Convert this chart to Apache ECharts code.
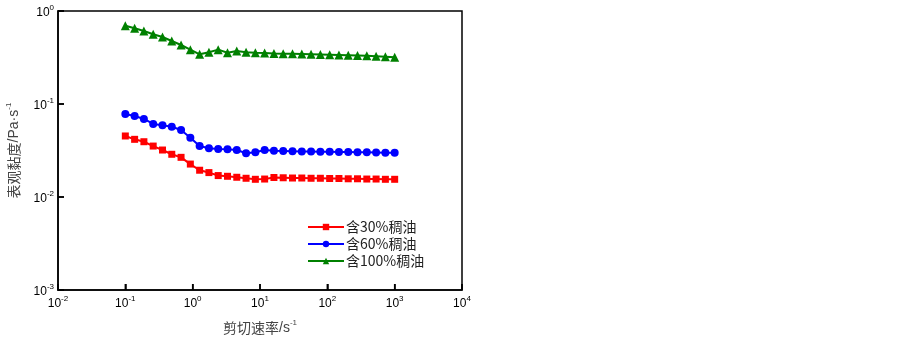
<!DOCTYPE html>
<html>
<head>
<meta charset="utf-8">
<script src="https://cdn.jsdelivr.net/npm/echarts@6/dist/echarts.min.js"></script>
<style>html,body{margin:0;padding:0;background:#fff}#c{width:903px;height:337px}</style>
</head>
<body>
<div id="c"></div>
<script>
var shearRate = [0.1, 0.1374, 0.1887, 0.2593, 0.3562, 0.4894, 0.6723, 0.9237, 1.269, 1.743, 2.395, 3.290, 4.520, 6.210, 8.532, 11.72, 16.10, 22.12, 30.39, 41.75, 57.36, 78.80, 108.3, 148.7, 204.3, 280.7, 385.7, 529.9, 728.0, 1000];
var oil30 = [0.0453, 0.0417, 0.0393, 0.0353, 0.0320, 0.0288, 0.0267, 0.0226, 0.0194, 0.0183, 0.0170, 0.0167, 0.0163, 0.0159, 0.0155, 0.0156, 0.0162, 0.0161, 0.0160, 0.0160, 0.0159, 0.0159, 0.0158, 0.0158, 0.0157, 0.0157, 0.0156, 0.0156, 0.0155, 0.0155];
var oil60 = [0.0781, 0.0743, 0.0690, 0.0610, 0.0590, 0.0570, 0.0525, 0.0434, 0.0353, 0.0334, 0.0328, 0.0326, 0.0320, 0.0295, 0.0303, 0.0320, 0.0315, 0.0313, 0.0311, 0.0309, 0.0308, 0.0307, 0.0306, 0.0305, 0.0304, 0.0303, 0.0302, 0.0301, 0.0300, 0.0299];
var oil100 = [0.695, 0.652, 0.609, 0.562, 0.525, 0.476, 0.431, 0.384, 0.342, 0.360, 0.384, 0.356, 0.371, 0.360, 0.356, 0.353, 0.350, 0.348, 0.346, 0.344, 0.342, 0.340, 0.338, 0.336, 0.334, 0.332, 0.330, 0.327, 0.323, 0.318];
var seriesNames = ['含30%稠油', '含60%稠油', '含100%稠油'];
var xTickValues = [0.01, 0.1, 1, 10, 100, 1000, 10000];
var yTickValues = [0.001, 0.01, 0.1, 1];
var xTitleCjk = '剪切速率', xTitleUnit = '/s';
var yTitleCjk = '表观黏度', yTitleUnit = '/Pa·s';

function pairs(ys){ return ys.map(function(y,i){ return [shearRate[i], y]; }); }
function powLabel(v){
  var e = Math.round(Math.log(v)/Math.LN10);
  return '{b|10}{s|' + e + '}';
}
var richTick = {
  b: {fontFamily: 'Liberation Sans', fontSize: 12, color: '#000', verticalAlign: 'bottom', lineHeight: 15},
  s: {fontFamily: 'Liberation Sans', fontSize: 8, color: '#000', verticalAlign: 'top', lineHeight: 15, padding: [0,0,7,0]}
};
var richName = {
  c: {fontFamily: 'Noto Sans CJK SC', fontSize: 14, color: '#444', lineHeight: 18},
  u: {fontFamily: 'Liberation Sans', fontSize: 14, color: '#444', lineHeight: 18},
  s: {fontFamily: 'Liberation Sans', fontSize: 8, color: '#444', verticalAlign: 'top', lineHeight: 18, padding: [0,0,9,0]}
};

var chart = echarts.init(document.getElementById('c'), null, {renderer: 'canvas'});
chart.setOption({
  animation: false,
  backgroundColor: '#fff',
  textStyle: {fontFamily: 'Liberation Sans'},
  grid: {left: 58, top: 11, width: 404, height: 279, show: true, borderColor: '#000', borderWidth: 1.5,
         containLabel: false, outerBoundsMode: 'none'},
  xAxis: {
    type: 'log', logBase: 10, min: 0.01, max: 10000, position: 'bottom',
    name: '{c|' + xTitleCjk + '}{u|' + xTitleUnit + '}{s|-1}', nameLocation: 'middle', nameGap: 29,
    nameTextStyle: {rich: richName},
    axisLine: {show: true, onZero: false, lineStyle: {color: '#000', width: 1.5}},
    axisTick: {show: true, inside: true, length: 6, lineStyle: {color: '#000', width: 1.5}},
    minorTick: {show: false},
    splitLine: {show: false},
    axisLabel: {formatter: powLabel, rich: richTick, margin: 5}
  },
  yAxis: {
    type: 'log', logBase: 10, min: 0.001, max: 1, position: 'left',
    name: '{c|' + yTitleCjk + '}{u|' + yTitleUnit + '}{s|-1}', nameLocation: 'middle', nameGap: 35, nameRotate: 90,
    nameTextStyle: {rich: richName},
    axisLine: {show: true, onZero: false, lineStyle: {color: '#000', width: 1.5}},
    axisTick: {show: true, inside: true, length: 6, lineStyle: {color: '#000', width: 1.5}},
    minorTick: {show: false},
    splitLine: {show: false},
    axisLabel: {formatter: powLabel, rich: richTick, margin: 4}
  },
  legend: {
    show: true, orient: 'vertical', left: 307, top: 220, padding: 0, itemWidth: 36, itemHeight: 8, itemGap: 3,
    data: seriesNames,
    textStyle: {fontFamily: 'Noto Sans CJK SC', fontSize: 14, color: '#222', padding: [0,0,0,-3]}
  },
  series: [
    {name: seriesNames[0], type: 'line', data: pairs(oil30), symbol: 'rect', symbolSize: 7,
     itemStyle: {color: '#ff0000'}, lineStyle: {color: '#ff0000', width: 2}},
    {name: seriesNames[1], type: 'line', data: pairs(oil60), symbol: 'circle', symbolSize: 8,
     itemStyle: {color: '#0000ff'}, lineStyle: {color: '#0000ff', width: 2}},
    {name: seriesNames[2], type: 'line', data: pairs(oil100), symbol: 'triangle', symbolSize: 9,
     itemStyle: {color: '#008000'}, lineStyle: {color: '#008000', width: 2}}
  ]
});

// inward tick marks, positioned through the library's own log scales
var tickLen = 6;
var bottomY = chart.convertToPixel({yAxisIndex: 0}, yTickValues[0]);
var leftX = chart.convertToPixel({xAxisIndex: 0}, xTickValues[0]);
var ticks = [];
xTickValues.forEach(function(v){
  var px = chart.convertToPixel({xAxisIndex: 0}, v);
  ticks.push({type: 'line', z: 100, silent: true,
    shape: {x1: px, y1: bottomY, x2: px, y2: bottomY - tickLen},
    style: {stroke: '#000', lineWidth: 1.5}});
});
yTickValues.forEach(function(v){
  var py = chart.convertToPixel({yAxisIndex: 0}, v);
  ticks.push({type: 'line', z: 100, silent: true,
    shape: {x1: leftX, y1: py, x2: leftX + tickLen, y2: py},
    style: {stroke: '#000', lineWidth: 1.5}});
});
chart.setOption({graphic: ticks});
</script>
</body>
</html>
